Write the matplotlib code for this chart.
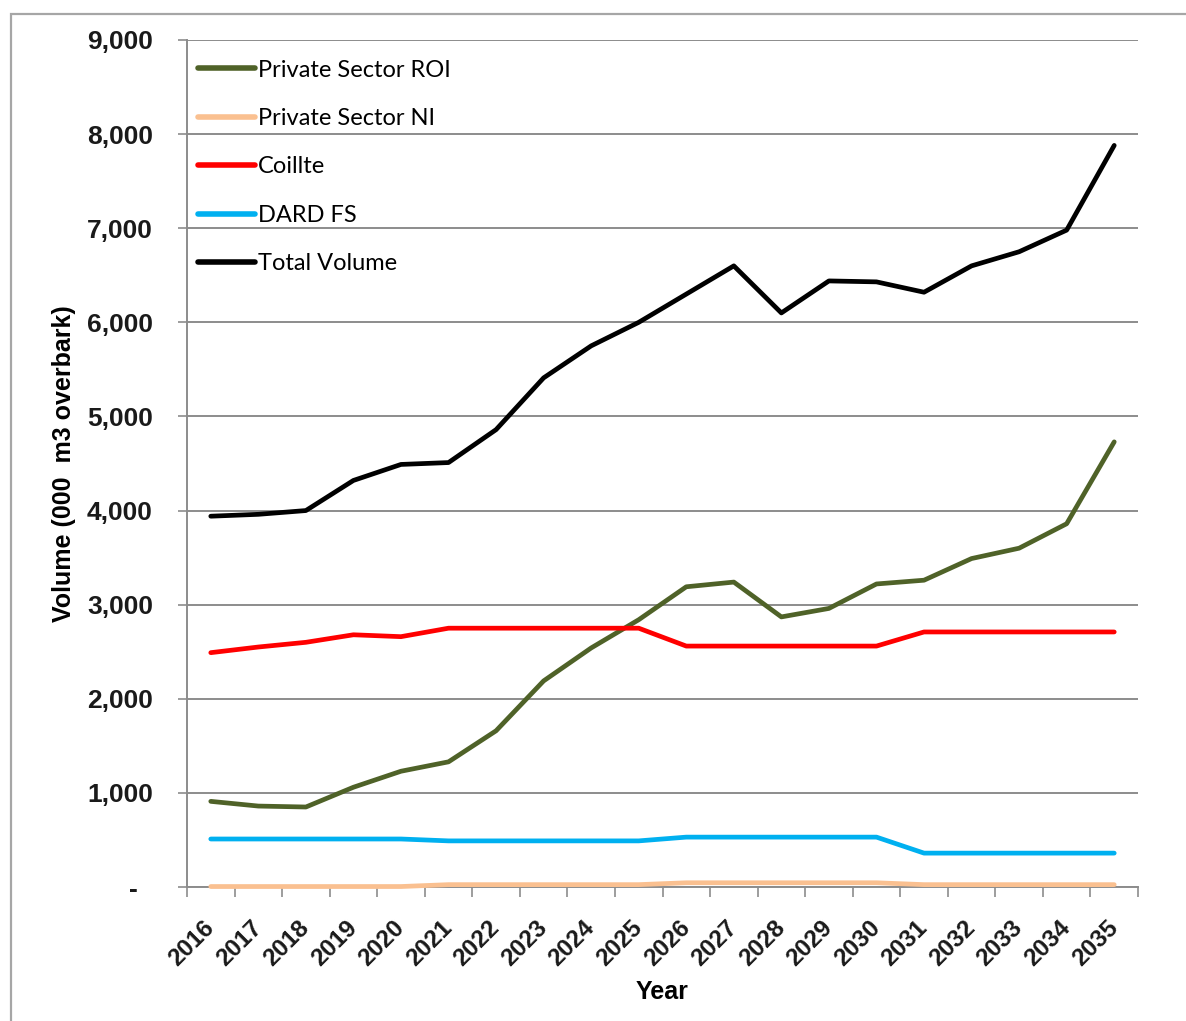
import numpy as np
import matplotlib
matplotlib.use("Agg")
import matplotlib.pyplot as plt
from matplotlib.patches import Rectangle
from matplotlib.ticker import FuncFormatter, FixedLocator

# years on the category axis
years = [str(y) for y in range(2016, 2036)]

# volumes in 000 m3 overbark
private_roi = [910, 860, 850, 1060, 1230, 1330, 1660, 2190, 2540, 2840,
               3190, 3240, 2870, 2960, 3220, 3260, 3490, 3600, 3860, 4730]
private_ni = [5, 5, 5, 5, 5, 25, 25, 25, 25, 25,
              45, 45, 45, 45, 45, 25, 25, 25, 25, 25]
coillte = [2490, 2550, 2600, 2680, 2660, 2750, 2750, 2750, 2750, 2750,
           2560, 2560, 2560, 2560, 2560, 2710, 2710, 2710, 2710, 2710]
dard_fs = [510, 510, 510, 510, 510, 490, 490, 490, 490, 490,
           530, 530, 530, 530, 530, 360, 360, 360, 360, 360]
total_volume = [3940, 3960, 4000, 4320, 4490, 4510, 4860, 5410, 5750, 6000,
                6300, 6600, 6100, 6440, 6430, 6320, 6600, 6750, 6980, 7880]

series = [
    ("Private Sector ROI", private_roi, "#4F6228"),
    ("Private Sector NI", private_ni, "#FAC090"),
    ("Coillte", coillte, "#FF0000"),
    ("DARD FS", dard_fs, "#00B0F0"),
    ("Total Volume", total_volume, "#000000"),
]

grid_col = "#8C8C8C"
bold_font = "Liberation Sans"

fig = plt.figure(figsize=(11.86, 10.21), dpi=100)
ax = fig.add_axes([187 / 1186, 1 - 887 / 1021, (1138 - 187) / 1186, (887 - 40) / 1021])

# outer chart border (only top and left visible in the crop)
fig.patches.append(Rectangle((11 / 1186, -0.1), 1.2, 1.1 - 14 / 1021,
                             transform=fig.transFigure, fill=False,
                             edgecolor="#A6A6A6", linewidth=1.6))

x = np.arange(len(years))
for name, vals, col in series:
    ax.plot(x, vals, color=col, linewidth=3.4, label=name,
            solid_capstyle="round", solid_joinstyle="round",
            clip_on=False, zorder=3)

ax.set_xlim(-0.5, len(years) - 0.5)
ax.set_ylim(0, 9000)
ax.set_yticks(np.arange(0, 9001, 1000))
# excel accounting style: zero shows as a dash
ax.yaxis.set_major_formatter(FuncFormatter(lambda v, p: "-  " if v == 0 else f"{v:,.0f}"))
ax.grid(axis="y", color=grid_col, linewidth=1.4)
ax.set_axisbelow(True)

# category ticks sit between the years, labels in the middle
ax.set_xticks(x)
ax.set_xticklabels(years, rotation=45, ha="right", va="center", rotation_mode="anchor")
ax.xaxis.set_minor_locator(FixedLocator(np.arange(-0.5, len(years), 1)))
ax.tick_params(axis="x", which="major", length=0, pad=27)
ax.tick_params(axis="x", which="minor", length=7.2, width=1.2, color=grid_col)
ax.tick_params(axis="y", length=6.5, width=1.2, color=grid_col, pad=18)

for lbl in ax.get_yticklabels():
    lbl.set_fontsize(19)
for lbl in ax.get_xticklabels():
    lbl.set_fontsize(17.5)
for lbl in ax.get_xticklabels() + ax.get_yticklabels():
    lbl.set_fontfamily(bold_font)
    lbl.set_fontweight("bold")
    lbl.set_color("#1a1a1a")

for side in ["top", "right"]:
    ax.spines[side].set_visible(False)
for side in ["left", "bottom"]:
    ax.spines[side].set_color(grid_col)
    ax.spines[side].set_linewidth(1.4)

ax.set_ylabel("Volume (000  m3 overbark)", fontfamily=bold_font, fontweight="bold",
              fontsize=18)
ax.yaxis.set_label_coords(-(187 - 76) / (1138 - 187), 0.5)
ax.set_xlabel("Year", fontfamily=bold_font, fontweight="bold", fontsize=18)
ax.xaxis.set_label_coords(0.5, -(980 - 887) / (887 - 40))

leg = ax.legend(loc="upper left", bbox_to_anchor=(0.002, 0.988), frameon=False,
                prop={"family": "Lato", "size": 17}, handlelength=2.4,
                handletextpad=0.12, labelspacing=1.16, borderaxespad=0.0)
for line in leg.get_lines():
    line.set_linewidth(4)

fig.savefig("out.png", dpi=100)
